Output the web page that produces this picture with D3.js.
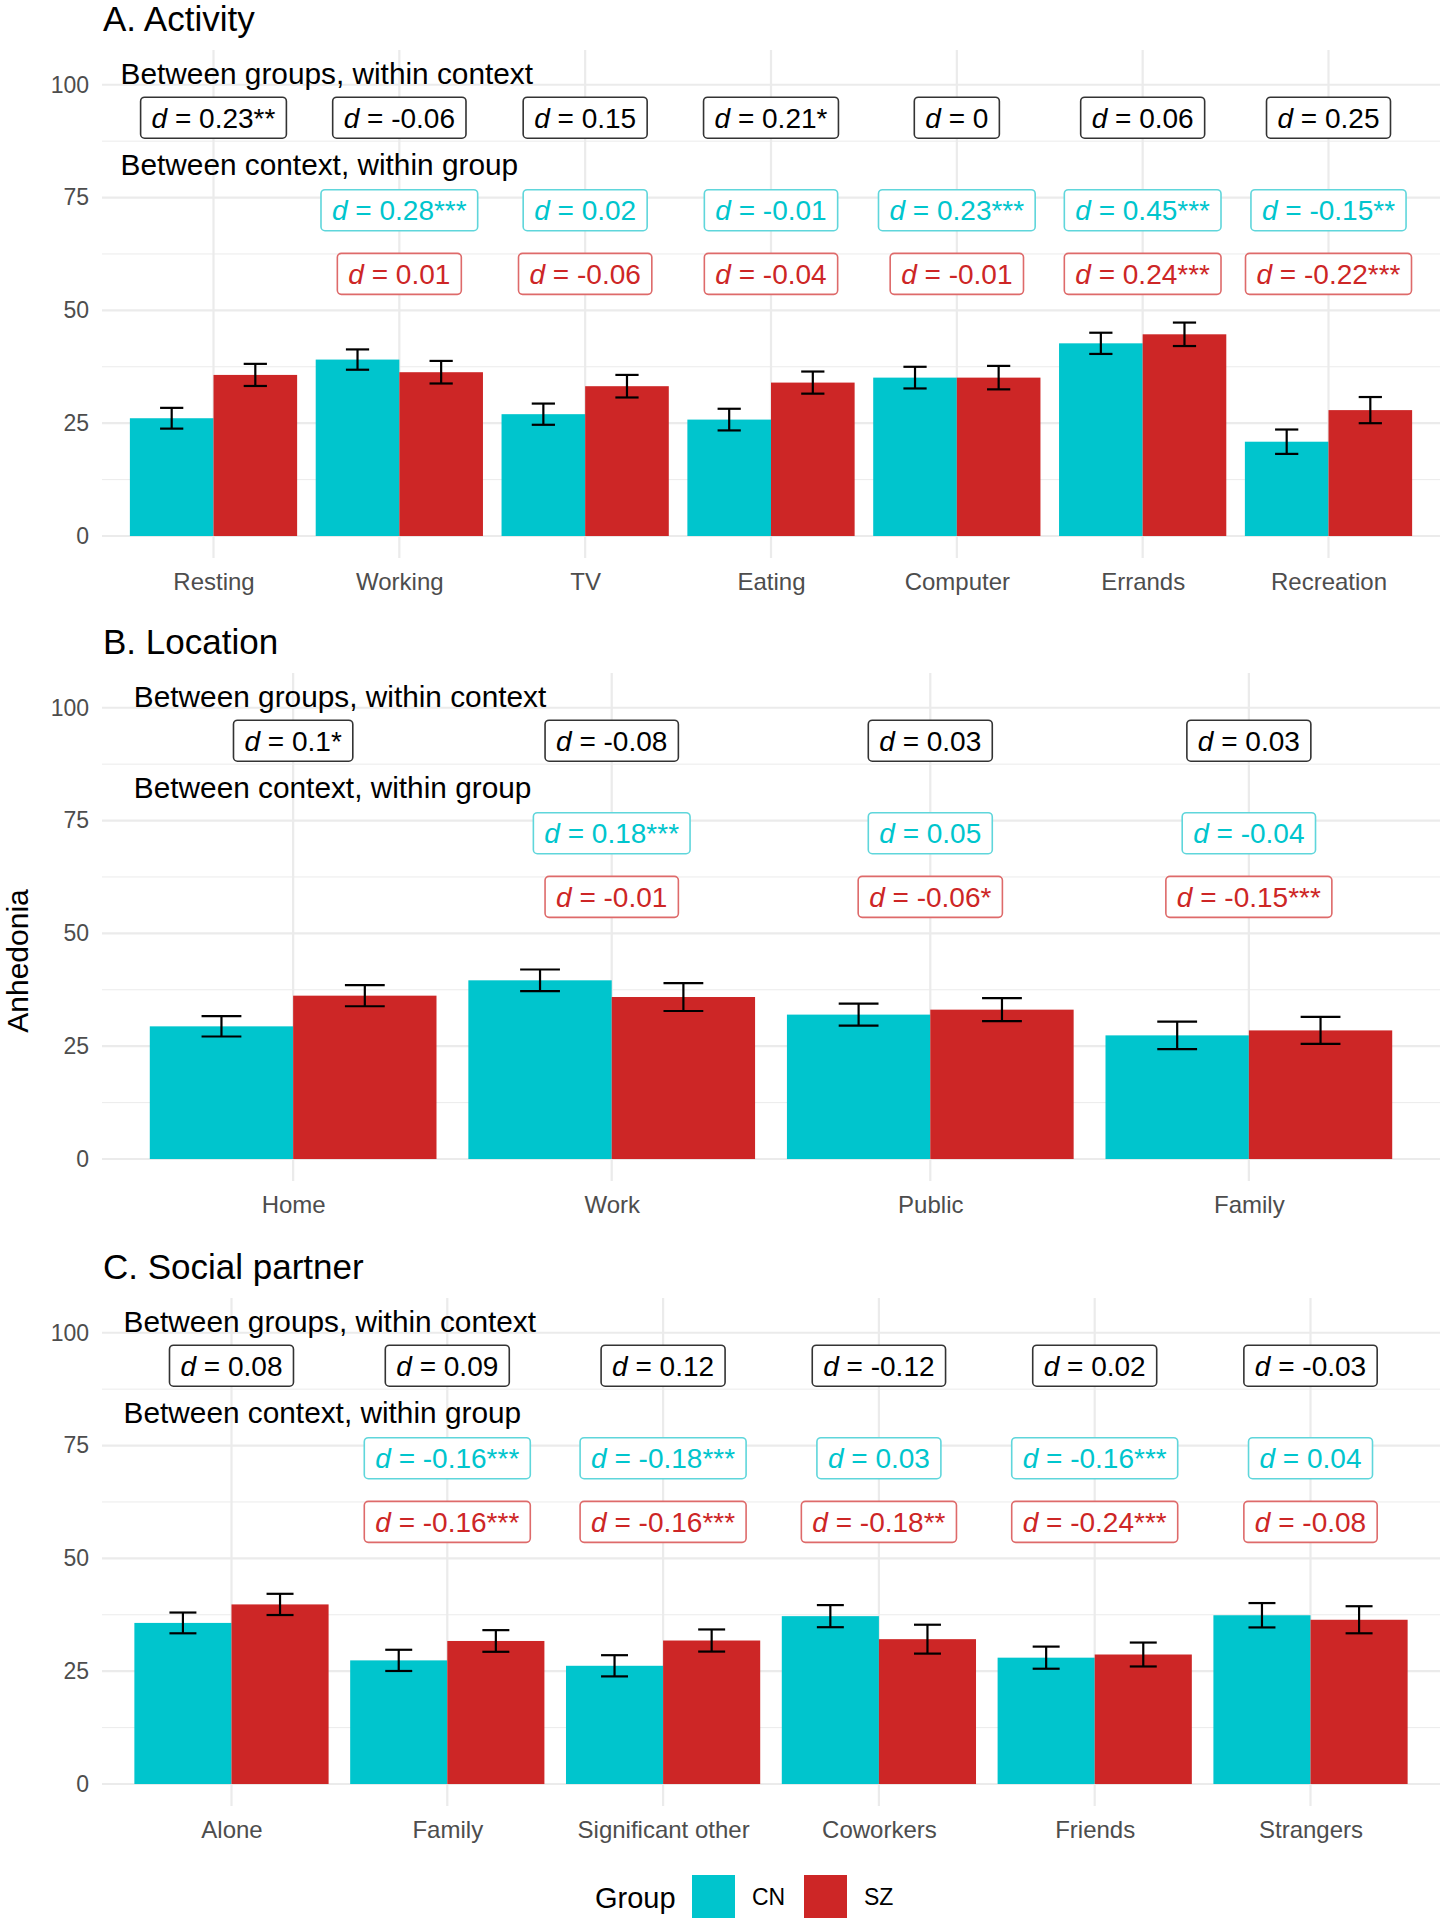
<!DOCTYPE html>
<html>
<head>
<meta charset="utf-8">
<script src="https://cdn.jsdelivr.net/npm/d3@7"></script>
<style>
  html, body { margin: 0; padding: 0; background: #fff; }
  svg text { font-family: "Liberation Sans", Arial, sans-serif; }
</style>
</head>
<body>
<svg id="chart" width="1440" height="1920"></svg>
<script>
// ---------- DATA ----------
const groups = ["CN", "SZ"];

// A. Activity
const activityCats = ["Resting", "Working", "TV", "Eating", "Computer", "Errands", "Recreation"];
const activityCN   = [26.1, 39.1, 27.0, 25.8, 35.1, 42.7, 20.9];
const activityCNse = [2.3, 2.25, 2.35, 2.4, 2.4, 2.35, 2.7];
const activitySZ   = [35.7, 36.3, 33.2, 34.0, 35.1, 44.7, 27.9];
const activitySZse = [2.45, 2.5, 2.5, 2.45, 2.6, 2.6, 2.9];
const activityBetween  = ["0.23**", "-0.06", "0.15", "0.21*", "0", "0.06", "0.25"];
const activityWithinCN = [null, "0.28***", "0.02", "-0.01", "0.23***", "0.45***", "-0.15**"];
const activityWithinSZ = [null, "0.01", "-0.06", "-0.04", "-0.01", "0.24***", "-0.22***"];

// B. Location
const locationCats = ["Home", "Work", "Public", "Family"];
const locationCN   = [29.4, 39.6, 32.0, 27.4];
const locationCNse = [2.25, 2.4, 2.45, 3.05];
const locationSZ   = [36.2, 35.9, 33.1, 28.5];
const locationSZse = [2.35, 3.1, 2.55, 3.0];
const locationBetween  = ["0.1*", "-0.08", "0.03", "0.03"];
const locationWithinCN = [null, "0.18***", "0.05", "-0.04"];
const locationWithinSZ = [null, "-0.01", "-0.06*", "-0.15***"];

// C. Social partner
const socialCats = ["Alone", "Family", "Significant other", "Coworkers", "Friends", "Strangers"];
const socialCN   = [35.7, 27.4, 26.2, 37.2, 28.0, 37.4];
const socialCNse = [2.3, 2.35, 2.35, 2.45, 2.45, 2.7];
const socialSZ   = [39.8, 31.7, 31.8, 32.1, 28.7, 36.4];
const socialSZse = [2.35, 2.4, 2.45, 3.2, 2.65, 3.0];
const socialBetween  = ["0.08", "0.09", "0.12", "-0.12", "0.02", "-0.03"];
const socialWithinCN = [null, "-0.16***", "-0.18***", "0.03", "-0.16***", "0.04"];
const socialWithinSZ = [null, "-0.16***", "-0.16***", "-0.18**", "-0.24***", "-0.08"];

const yTicks = [0, 25, 50, 75, 100];
const yMinor = [12.5, 37.5, 62.5, 87.5];

// ---------- STYLE ----------
const colCN = "#00C5CD";
const colSZ = "#CD2626";
const gridCol = "#EBEBEB";

const svg = d3.select("#chart");

function addLabel(g, cx, cy, value, textCol, borderCol) {
  const lg = g.append("g");
  const t = lg.append("text")
    .attr("x", cx).attr("y", cy).attr("dy", "0.36em")
    .attr("text-anchor", "middle")
    .attr("font-size", 28)
    .attr("fill", textCol);
  t.append("tspan").attr("font-style", "italic").text("d");
  t.append("tspan").text(" = " + value);
  const w = t.node().getComputedTextLength();
  const padX = 11, h = 41;
  lg.insert("rect", "text")
    .attr("x", cx - w / 2 - padX).attr("y", cy - h / 2)
    .attr("width", w + 2 * padX).attr("height", h)
    .attr("rx", 4).attr("ry", 4)
    .attr("fill", "#fff")
    .attr("stroke", borderCol).attr("stroke-width", 1.6);
}

function drawPanel(cfg) {
  const left = 102, right = 1440, top = cfg.top, bottom = top + 508;
  const x = d3.scalePoint().domain(cfg.cats).range([left, right]).padding(0.6);
  const step = x.step();
  const y = d3.scaleLinear().domain([-4.87, 107.7]).range([bottom, top]);
  const g = svg.append("g");

  // title
  g.append("text").attr("x", 103).attr("y", top - 19)
    .attr("font-size", 35).attr("fill", "#000").text(cfg.title);

  // minor grid
  g.selectAll("line.minor").data(yMinor).join("line")
    .attr("x1", left).attr("x2", right)
    .attr("y1", d => y(d)).attr("y2", d => y(d))
    .attr("stroke", gridCol).attr("stroke-width", 1);
  // major grid horizontal
  g.selectAll("line.major").data(yTicks).join("line")
    .attr("x1", left).attr("x2", right)
    .attr("y1", d => y(d)).attr("y2", d => y(d))
    .attr("stroke", gridCol).attr("stroke-width", 2.2);
  // vertical grid
  g.selectAll("line.vgrid").data(cfg.cats).join("line")
    .attr("x1", d => x(d)).attr("x2", d => x(d))
    .attr("y1", top).attr("y2", bottom)
    .attr("stroke", gridCol).attr("stroke-width", 2.2);

  // y axis
  const ya = g.append("g").attr("transform", `translate(89,0)`)
    .call(d3.axisLeft(y).tickValues(yTicks).tickSize(0).tickPadding(0));
  ya.select(".domain").remove();
  ya.selectAll("text").attr("font-size", 23).attr("fill", "#4D4D4D")
    .attr("font-family", "Liberation Sans, Arial, sans-serif");

  // x axis
  const xa = g.append("g").attr("transform", `translate(0,${bottom})`)
    .call(d3.axisBottom(x).tickSize(0).tickPadding(15));
  xa.select(".domain").remove();
  xa.selectAll("text").attr("font-size", 24).attr("fill", "#4D4D4D")
    .attr("font-family", "Liberation Sans, Arial, sans-serif");

  // bars
  const bw = step * 0.45;
  const series = [
    { key: "CN", vals: cfg.cn, se: cfg.cnSe, col: colCN, off: -bw },
    { key: "SZ", vals: cfg.sz, se: cfg.szSe, col: colSZ, off: 0 }
  ];
  series.forEach(s => {
    g.selectAll(null).data(cfg.cats).join("rect")
      .attr("x", c => x(c) + s.off)
      .attr("width", bw)
      .attr("y", (c, i) => y(s.vals[i]))
      .attr("height", (c, i) => y(0) - y(s.vals[i]))
      .attr("fill", s.col);
  });
  // error bars
  const ww = step * 0.0625;
  series.forEach(s => {
    const eg = g.selectAll(null).data(cfg.cats).join("g")
      .attr("stroke", "#000").attr("stroke-width", 2.2);
    eg.append("line")
      .attr("x1", c => x(c) + s.off + bw / 2).attr("x2", c => x(c) + s.off + bw / 2)
      .attr("y1", (c, i) => y(s.vals[i] + s.se[i])).attr("y2", (c, i) => y(s.vals[i] - s.se[i]));
    eg.append("line")
      .attr("x1", c => x(c) + s.off + bw / 2 - ww).attr("x2", c => x(c) + s.off + bw / 2 + ww)
      .attr("y1", (c, i) => y(s.vals[i] + s.se[i])).attr("y2", (c, i) => y(s.vals[i] + s.se[i]));
    eg.append("line")
      .attr("x1", c => x(c) + s.off + bw / 2 - ww).attr("x2", c => x(c) + s.off + bw / 2 + ww)
      .attr("y1", (c, i) => y(s.vals[i] - s.se[i])).attr("y2", (c, i) => y(s.vals[i] - s.se[i]));
  });

  // annotation headings
  const hx = x(cfg.cats[0]) - 0.5 * step;
  g.append("text").attr("x", hx).attr("y", y(102.5)).attr("dy", "0.36em")
    .attr("font-size", 29.8).attr("fill", "#000").text("Between groups, within context");
  g.append("text").attr("x", hx).attr("y", y(82.3)).attr("dy", "0.36em")
    .attr("font-size", 29.8).attr("fill", "#000").text("Between context, within group");

  cfg.cats.forEach((c, i) => {
    addLabel(g, x(c), y(92.7), cfg.between[i], "#000", "#333");
    if (cfg.withinCN[i] !== null) addLabel(g, x(c), y(72.2), cfg.withinCN[i], colCN, "#5FD6DB");
    if (cfg.withinSZ[i] !== null) addLabel(g, x(c), y(58.1), cfg.withinSZ[i], colSZ, "#DE6A6A");
  });
}

drawPanel({ top: 50, title: "A. Activity", cats: activityCats,
  cn: activityCN, cnSe: activityCNse, sz: activitySZ, szSe: activitySZse,
  between: activityBetween, withinCN: activityWithinCN, withinSZ: activityWithinSZ });
drawPanel({ top: 673, title: "B. Location", cats: locationCats,
  cn: locationCN, cnSe: locationCNse, sz: locationSZ, szSe: locationSZse,
  between: locationBetween, withinCN: locationWithinCN, withinSZ: locationWithinSZ });
drawPanel({ top: 1298, title: "C. Social partner", cats: socialCats,
  cn: socialCN, cnSe: socialCNse, sz: socialSZ, szSe: socialSZse,
  between: socialBetween, withinCN: socialWithinCN, withinSZ: socialWithinSZ });

// y-axis title
svg.append("text")
  .attr("transform", "translate(28,961) rotate(-90)")
  .attr("text-anchor", "middle")
  .attr("font-size", 30).attr("fill", "#000").text("Anhedonia");

// legend
const leg = svg.append("g");
leg.append("text").attr("x", 595).attr("y", 1908).attr("font-size", 29).attr("fill", "#000").text("Group");
const legColor = d3.scaleOrdinal().domain(groups).range([colCN, colSZ]);
const legX = d3.scalePoint().domain(groups).range([692, 804]);
leg.selectAll("rect").data(groups).join("rect")
  .attr("x", d => legX(d)).attr("y", 1875).attr("width", 43).attr("height", 43)
  .attr("fill", d => legColor(d));
leg.selectAll("text.lab").data(groups).join("text")
  .attr("x", d => legX(d) + 60).attr("y", 1905)
  .attr("font-size", 23).attr("fill", "#000").text(d => d);
</script>
</body>
</html>
